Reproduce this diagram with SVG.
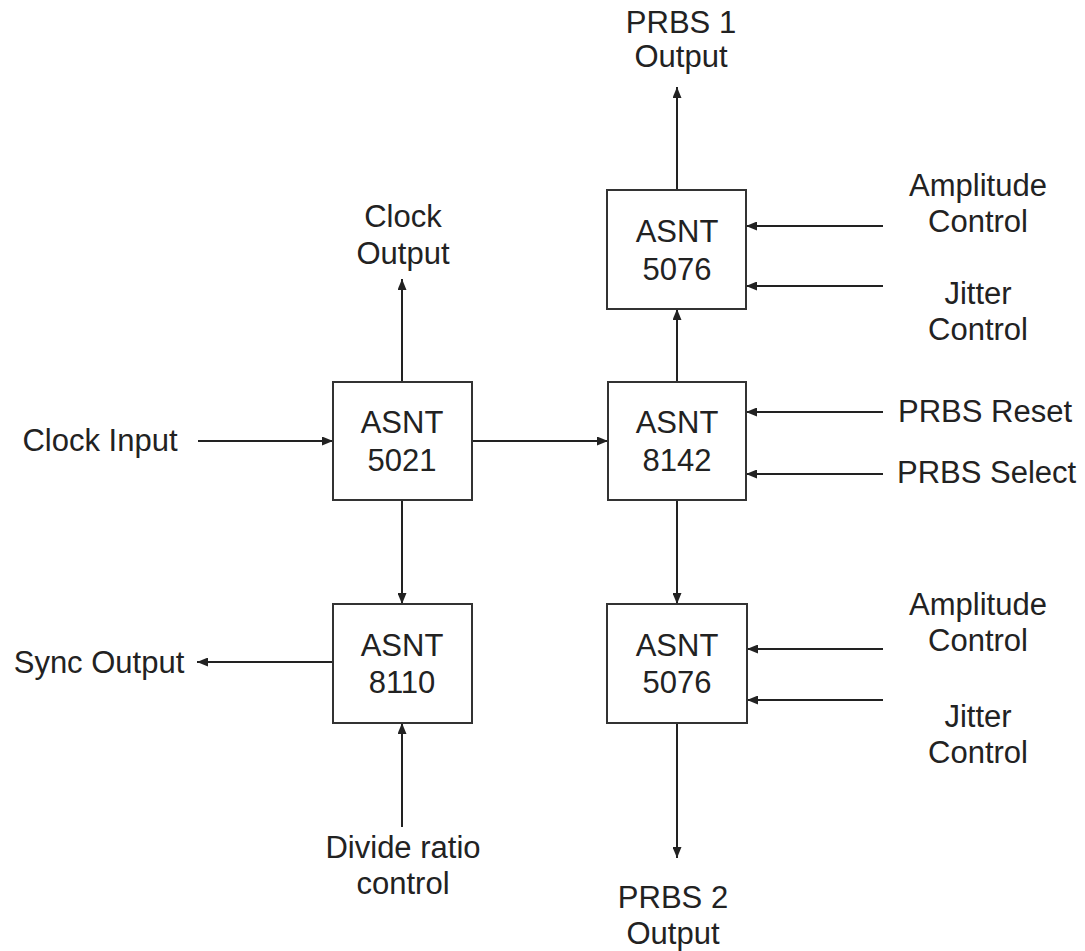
<svg xmlns="http://www.w3.org/2000/svg" width="1085" height="951" viewBox="0 0 1085 951">
<style>
.box{fill:#fff;stroke:#333;stroke-width:2}
.t{font-family:"Liberation Sans",Arial,sans-serif;font-size:31px;fill:#222;text-anchor:middle}
.ts{font-family:"Liberation Sans",Arial,sans-serif;font-size:31px;fill:#222;text-anchor:start}
.c{stroke:#222;stroke-width:2;fill:none;marker-end:url(#ah)}
</style>
<defs>
<marker id="ah" markerUnits="userSpaceOnUse" markerWidth="11" markerHeight="9" refX="11" refY="4.5" orient="auto">
<path d="M0,0 L11,4.5 L0,9 z" fill="#222"/>
</marker>
</defs>
<rect width="1085" height="951" fill="#fff"/>
<g id="connectors">
<line class="c" x1="677" y1="190" x2="677" y2="87"/>
<line class="c" x1="402" y1="382" x2="402" y2="279"/>
<line class="c" x1="198" y1="441" x2="333" y2="441"/>
<line class="c" x1="472" y1="441" x2="608" y2="441"/>
<line class="c" x1="677" y1="382" x2="677" y2="309"/>
<line class="c" x1="677" y1="500" x2="677" y2="604"/>
<line class="c" x1="402" y1="500" x2="402" y2="604"/>
<line class="c" x1="333" y1="662" x2="197" y2="662"/>
<line class="c" x1="402" y1="827" x2="402" y2="723"/>
<line class="c" x1="677" y1="723" x2="677" y2="858"/>
<line class="c" x1="883" y1="226" x2="746" y2="226"/>
<line class="c" x1="883" y1="286" x2="746" y2="286"/>
<line class="c" x1="883" y1="412" x2="746" y2="412"/>
<line class="c" x1="883" y1="474" x2="746" y2="474"/>
<line class="c" x1="883" y1="649" x2="747" y2="649"/>
<line class="c" x1="883" y1="700" x2="747" y2="700"/>
</g>
<g id="n5021"><rect class="box" x="333" y="382" width="139" height="118"/><text class="t" x="402" y="433">ASNT</text><text class="t" x="402" y="471">5021</text></g>
<g id="n8142"><rect class="box" x="608" y="382" width="138" height="118"/><text class="t" x="677" y="433">ASNT</text><text class="t" x="677" y="471">8142</text></g>
<g id="n5076a"><rect class="box" x="607" y="190" width="139" height="119"/><text class="t" x="677" y="242">ASNT</text><text class="t" x="677" y="280">5076</text></g>
<g id="n5076b"><rect class="box" x="607" y="604" width="140" height="119"/><text class="t" x="677" y="656">ASNT</text><text class="t" x="677" y="693">5076</text></g>
<g id="n8110"><rect class="box" x="333" y="604" width="139" height="119"/><text class="t" x="402" y="656">ASNT</text><text class="t" x="402" y="693">8110</text></g>
<g id="lbl-prbs1"><text class="t" x="681" y="33">PRBS 1</text><text class="t" x="681" y="67">Output</text></g>
<g id="lbl-clockout"><text class="t" x="403" y="227">Clock</text><text class="t" x="403" y="264">Output</text></g>
<g id="lbl-clockin"><text class="t" x="100" y="451">Clock Input</text></g>
<g id="lbl-sync"><text class="t" x="99" y="673">Sync Output</text></g>
<g id="lbl-divide"><text class="t" x="403" y="858">Divide ratio</text><text class="t" x="403" y="894">control</text></g>
<g id="lbl-prbs2"><text class="t" x="673" y="908">PRBS 2</text><text class="t" x="673" y="944">Output</text></g>
<g id="lbl-amp1"><text class="t" x="978" y="196">Amplitude</text><text class="t" x="978" y="232">Control</text></g>
<g id="lbl-jit1"><text class="t" x="978" y="304">Jitter</text><text class="t" x="978" y="340">Control</text></g>
<g id="lbl-reset"><text class="ts" x="898" y="422">PRBS Reset</text></g>
<g id="lbl-select"><text class="ts" x="897" y="483">PRBS Select</text></g>
<g id="lbl-amp2"><text class="t" x="978" y="615">Amplitude</text><text class="t" x="978" y="651">Control</text></g>
<g id="lbl-jit2"><text class="t" x="978" y="727">Jitter</text><text class="t" x="978" y="763">Control</text></g>
</svg>
